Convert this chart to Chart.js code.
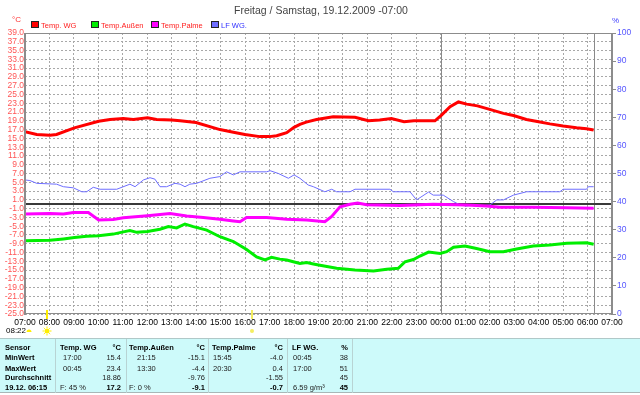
<!DOCTYPE html>
<html><head><meta charset="utf-8">
<script src="https://cdn.jsdelivr.net/npm/chart.js@4.4.1/dist/chart.umd.min.js"></script>
<style>
html,body{margin:0;padding:0;background:#fff;}
#wrap{position:relative;width:640px;height:395px;overflow:hidden;font-family:"Liberation Sans",Arial,sans-serif;}
#c{position:absolute;left:0;top:0;}
.abs{position:absolute;white-space:nowrap;line-height:1;}
#title{left:0;width:642px;top:5px;text-align:center;font-size:10.5px;color:#444;}
.lbox{position:absolute;width:6px;height:5px;border:1px solid #222;top:21px;}
.ltxt{position:absolute;top:21px;font-size:7.5px;color:#ff2020;}
#tbl{position:absolute;left:0;top:338px;width:640px;height:55px;background:#cdfafa;border-top:1px solid #b0c8c8;border-bottom:1px solid #a8b8b8;box-sizing:border-box;}
.sep{position:absolute;top:0;width:1px;height:54px;background:#b8d4d4;}
.cell{position:absolute;font-size:7.5px;color:#222;white-space:nowrap;line-height:1;}
.b{font-weight:bold;color:#000;}
</style></head>
<body>
<div id="wrap">
<canvas id="c" width="640" height="340"></canvas>
<div id="title" class="abs"></div>
<div class="abs" style="left:12px;top:16px;font-size:8px;color:#ff3030;">°C</div>
<div class="abs" style="left:612px;top:17px;font-size:8px;color:#4040ff;">%</div>
<div id="legend"></div>
<div class="abs" style="left:6px;top:327px;font-size:8px;color:#000;">08:22</div>
<div id="tbl"></div>
</div>
<script>
// ---- data ----
const titleText = 'Freitag / Samstag, 19.12.2009  -07:00';
const hourLabels = ['07:00','08:00','09:00','10:00','11:00','12:00','13:00','14:00','15:00','16:00','17:00','18:00','19:00','20:00','21:00','22:00','23:00','00:00','01:00','02:00','03:00','04:00','05:00','06:00','07:00'];
const seriesNames = ['Temp. WG','Temp.Außen','Temp.Palme','LF WG.'];

const wgHours = [0,0.48,1.02,1.29,2.02,3.01,3.48,4.02,4.43,5.01,5.38,6.0,6.34,6.99,7.97,8.52,8.99,9.6,9.99,10.29,10.7,11.0,11.24,11.5,11.92,12.6,13.49,14.04,14.5,14.98,15.5,15.9,16.76,17.03,17.38,17.72,18.06,18.5,19.0,19.56,19.97,20.5,21.0,21.46,22.0,22.55,22.96,23.25];
const wgTemp  = [16.5,15.9,15.7,15.9,17.4,18.9,19.3,19.5,19.3,19.7,19.3,19.2,19.0,18.6,17.0,16.4,15.9,15.4,15.4,15.6,16.3,17.5,18.2,18.7,19.3,19.9,19.8,19.0,19.2,19.5,18.8,19.0,19.0,20.3,22.2,23.3,22.8,22.4,21.6,20.7,20.2,19.3,18.8,18.3,17.8,17.4,17.2,16.9];

const ausHours = [0,1.02,1.57,2.02,2.52,3.01,3.61,4.02,4.29,4.57,5.01,5.52,5.86,6.2,6.54,6.88,7.43,7.97,8.52,9.06,9.47,9.81,10.08,10.42,10.7,10.97,11.24,11.52,11.79,12.06,12.74,13.49,14.25,14.79,15.26,15.54,15.88,16.15,16.5,16.97,17.24,17.52,17.99,18.46,19.01,19.56,20.1,20.78,21.46,22.15,22.96,23.25];
const ausTemp  = [-8.3,-8.2,-7.9,-7.6,-7.3,-7.2,-6.8,-6.3,-6.0,-6.4,-6.2,-5.7,-5.1,-5.4,-4.5,-5.1,-5.9,-7.4,-8.5,-10.3,-12.0,-12.7,-12.1,-12.5,-12.7,-13.1,-13.5,-13.3,-13.6,-13.9,-14.6,-15.0,-15.2,-14.8,-14.6,-13.1,-12.6,-11.8,-10.9,-11.2,-10.8,-9.8,-9.5,-10.1,-10.8,-10.8,-10.2,-9.5,-9.3,-8.9,-8.8,-9.1];

const palmeHours = [0,1.02,1.57,1.98,2.59,3.01,3.61,4.02,5.01,5.93,6.61,7.29,7.97,8.52,8.79,9.06,9.88,10.7,11.52,12.26,12.54,12.88,13.29,13.6,13.97,15.33,16.69,18.06,18.87,19.42,20.78,22.15,23.25];
const palmeTemp  = [-2.2,-2.1,-2.2,-1.9,-1.9,-3.6,-3.5,-3.1,-2.6,-2.1,-2.7,-3.0,-3.4,-3.8,-4.0,-3.0,-3.0,-3.4,-3.6,-4.0,-2.8,-0.6,0.0,0.3,-0.1,-0.3,0.0,-0.2,-0.4,-0.7,-0.7,-0.8,-0.9];

const lfHours = [0,0.2,0.48,1.29,1.57,1.98,2.32,2.52,2.79,3.07,3.75,4.29,4.5,4.84,5.11,5.31,5.52,5.79,6.13,6.34,6.54,6.74,7.02,7.56,7.97,8.24,8.52,8.79,9.88,10.02,10.36,10.77,11.0,11.24,11.58,11.79,12.26,12.54,12.74,13.29,13.49,14.92,15.06,15.74,16.01,16.5,16.69,17.1,17.52,17.79,18.06,18.33,18.6,19.01,19.29,19.56,19.97,20.51,21.87,22.0,22.96,23.03,23.25];
const lfPercent = [47.7,47.5,46.5,46.2,45.3,44.9,43.5,43.5,45.1,44.4,44.4,46.2,45.3,47.7,48.5,48.0,45.3,45.3,46.5,46.2,45.3,46.2,46.5,48.3,48.9,50.6,49.5,50.6,50.6,51.0,50.0,48.3,49.5,48.3,45.9,45.3,43.5,44.4,43.5,43.5,44.4,44.4,43.5,43.5,40.6,43.4,42.3,42.3,40.0,38.8,38.4,39.0,38.4,38.8,40.6,40.6,42.3,43.5,43.5,44.4,44.4,45.3,45.3];

const tempMin = -25, tempMax = 39, tempStep = 2;
const pctMin = 0, pctMax = 100, pctStep = 10;
const zeroLine = 0;
const solidHours = [17, 23.25];   // midnight and current time
const sunHours = [0.9, 9.27];     // sunrise / sunset markers

const tableHeader = ['Sensor','Temp. WG','°C','Temp.Außen','°C','Temp.Palme','°C','LF WG.','%'];
const tableMin    = ['MinWert','17:00','15.4','21:15','-15.1','15:45','-4.0','00:45','38'];
const tableMax    = ['MaxWert','00:45','23.4','13:30','-4.4','20:30','0.4','17:00','51'];
const tableAvg    = ['Durchschnitt','','18.86','','-9.76','','-1.55','','45'];
const tableNow    = ['19.12. 06:15','F: 45 %','17.2','F: 0 %','-9.1','','-0.7','6.59 g/m³','45'];

// ---- colours / layout ----
const colors = ['#ff0000','#00ee00','#ff00ff','#6e6eff'];

document.getElementById('title').textContent = titleText;

const legendPos = [31,91,151,211];
const legend = document.getElementById('legend');
seriesNames.forEach((n,i)=>{
  const b=document.createElement('div'); b.className='lbox'; b.style.left=legendPos[i]+'px'; b.style.background=colors[i]; legend.appendChild(b);
  const t=document.createElement('div'); t.className='ltxt'; t.style.left=(legendPos[i]+10)+'px'; t.textContent=n;
  if(i===3) t.style.color='#3030ff';
  legend.appendChild(t);
});

// table
const tbl = document.getElementById('tbl');
[55,126,208,287,352].forEach(x=>{const s=document.createElement('div');s.className='sep';s.style.left=x+'px';tbl.appendChild(s);});
const hdrX = [[5,'l'],[60,'l'],[121,'r'],[129,'l'],[205,'r'],[212,'l'],[283,'r'],[292,'l'],[348,'r']];
const valX = [[5,'l'],[63,'l'],[121,'r'],[137,'l'],[205,'r'],[213,'l'],[283,'r'],[293,'l'],[348,'r']];
const rowY = [5,15,26,35,45];
const rows = [tableHeader,tableMin,tableMax,tableAvg,tableNow];
rows.forEach((r,ri)=>{
  r.forEach((txt,ci)=>{
    if(!txt) return;
    const pos = (ri===0 || (ri===4 && (ci===1||ci===3))) ? hdrX[ci] : valX[ci];
    const d=document.createElement('div'); d.className='cell'; d.textContent=txt;
    d.style.top=rowY[ri]+'px';
    if(pos[1]==='l') d.style.left=pos[0]+'px'; else d.style.right=(640-pos[0])+'px';
    const bold = ri===0 || ci===0 || (ri===4 && (ci===2||ci===4||ci===6||ci===8));
    if(bold) d.classList.add('b');
    tbl.appendChild(d);
  });
});

const pts = (hs,vs)=>hs.map((h,i)=>({x:h,y:vs[i]}));

const overlay = {
  id:'overlay',
  beforeDatasetsDraw(chart){
    const {ctx, chartArea:a, scales:{x,y}} = chart;
    ctx.save();
    ctx.strokeStyle='#8a8a8a'; ctx.lineWidth=1;
    solidHours.forEach(h=>{const px=Math.round(x.getPixelForValue(h))+0.5;ctx.beginPath();ctx.moveTo(px,a.top);ctx.lineTo(px,a.bottom);ctx.stroke();});
    const py=Math.round(y.getPixelForValue(zeroLine));
    ctx.fillStyle='#3a3a3a'; ctx.fillRect(a.left,py-1,a.right-a.left,2);
    ctx.restore();
  },
  afterDraw(chart){
    const {ctx, chartArea:a, scales:{x}} = chart;
    ctx.save();
    ctx.strokeStyle='#8c8c8c'; ctx.lineWidth=1;
    ctx.strokeRect(a.left+0.5,a.top+0.5,a.right-a.left-1,a.bottom-a.top-1);
    ctx.fillStyle='#8c8c8c'; ctx.fillRect(a.left-1,a.top,2,a.bottom-a.top+1);
    ctx.fillRect(a.right-1,a.top,2,a.bottom-a.top+1);
    // sun markers
    sunHours.forEach((h,i)=>{
      const px=Math.round(x.getPixelForValue(h));
      ctx.fillStyle= i===0 ? '#ffee00' : '#f4ee60';
      ctx.fillRect(px-1,a.bottom-4,2,9);
      ctx.beginPath(); ctx.arc(px,a.bottom+17,i===0?2.5:2,0,Math.PI*2); ctx.fill();
      if(i===0){ctx.strokeStyle='#ffee00';ctx.beginPath();
        for(let k=0;k<8;k++){const an=k*Math.PI/4;ctx.moveTo(px+Math.cos(an)*3,a.bottom+17+Math.sin(an)*3);ctx.lineTo(px+Math.cos(an)*4.5,a.bottom+17+Math.sin(an)*4.5);} ctx.stroke();}
    });
    ctx.fillStyle='#ffee00'; ctx.beginPath(); ctx.arc(29,a.bottom+18,2.5,Math.PI,0); ctx.fill();
    ctx.restore();
  }
};

new Chart(document.getElementById('c'), {
  type:'line',
  data:{datasets:[
    {label:seriesNames[0],data:pts(wgHours,wgTemp),borderColor:colors[0],borderWidth:3,yAxisID:'y'},
    {label:seriesNames[1],data:pts(ausHours,ausTemp),borderColor:colors[1],borderWidth:3,yAxisID:'y'},
    {label:seriesNames[2],data:pts(palmeHours,palmeTemp),borderColor:colors[2],borderWidth:3,yAxisID:'y'},
    {label:seriesNames[3],data:pts(lfHours,lfPercent),borderColor:colors[3],borderWidth:1,yAxisID:'y2'}
  ]},
  options:{
    responsive:false, animation:false, devicePixelRatio:1,
    layout:{padding:{top:33,bottom:6,left:0,right:0}},
    elements:{point:{radius:0},line:{tension:0,borderCapStyle:'butt'}},
    plugins:{legend:{display:false},title:{display:false},tooltip:{enabled:false}},
    scales:{
      x:{type:'linear',min:0,max:24,
        ticks:{stepSize:1,autoSkip:false,maxRotation:0,padding:4,color:'#000',font:{family:'Liberation Sans',size:8.5},
          callback:(v)=>hourLabels[v]},
        grid:{color:'#a8a8a8',drawTicks:false},border:{display:false,dash:[2,2]},
        afterFit:(s)=>{s.height=20;}},
      y:{position:'left',min:tempMin,max:tempMax,
        ticks:{stepSize:tempStep,autoSkip:false,padding:1,color:'#ff5555',font:{family:'Liberation Sans',size:8.5},
          callback:(v)=>v.toFixed(1)},
        grid:{color:'#a8a8a8',drawTicks:false},border:{display:false,dash:[2,2]},
        afterFit:(s)=>{s.width=25;}},
      y2:{position:'right',min:pctMin,max:pctMax,
        ticks:{stepSize:pctStep,autoSkip:false,padding:1,color:'#5555ff',font:{family:'Liberation Sans',size:8.5}},
        grid:{drawOnChartArea:false,tickLength:4,color:'#8c8c8c'},border:{display:false},
        afterFit:(s)=>{s.width=28;}}
    }
  },
  plugins:[overlay]
});
</script>
</body></html>
